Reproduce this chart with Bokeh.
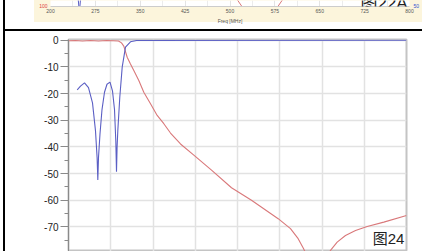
from bokeh.plotting import figure
from bokeh.models import Range1d, FixedTicker, LinearAxis, Label, Div, Spacer
from bokeh.layouts import row, column
from bokeh.embed import file_html
from bokeh.resources import INLINE

# ---------------- data: main chart (图24) ----------------
blue_freq = [20.6, 28.4, 37.9, 47.3, 56.8, 63.9, 67.7, 69.4, 71.0, 74.6, 79.3, 85.2,
             91.1, 98.2, 104.1, 108.9, 112.0, 113.6, 115.0, 116.7, 121.4, 127.1,
             134.9, 146.7, 160.9, 800.0]
blue_db = [-18.6, -17.2, -16.0, -17.8, -23.5, -34.0, -44.0, -52.4, -44.0, -35.0, -26.0, -19.5,
           -16.5, -15.7, -19.0, -26.0, -38.0, -49.3, -40.0, -34.0, -21.4, -10.1,
           -2.6, -0.6, -0.1, 0.0]

red_freq = [0.0, 16.6, 33.1, 52.1, 71.0, 89.9, 106.5, 118.3, 125.4, 130.9, 138.9, 146.7,
            154.6, 166.4, 178.2, 194.1, 209.9, 225.6, 241.4, 265.1, 296.6, 338.5,
            385.8, 433.1, 496.3, 525.4, 543.6, 556.2, 563.3, 577.5, 591.7, 605.9,
            613.0, 620.1, 635.9, 655.6, 679.3, 707.0, 746.3, 800.0]
red_db = [-0.2, -0.1, -0.3, -0.1, -0.3, -0.1, -0.2, -0.3, -1.0, -2.2, -6.4, -8.9,
          -11.4, -15.1, -19.5, -23.8, -28.2, -31.3, -34.8, -38.9, -43.1, -48.7,
          -55.3, -60.0, -66.9, -70.6, -74.4, -78.1, -80.5, -90.0, -90.0, -83.0,
          -80.5, -78.8, -75.7, -73.2, -71.3, -69.8, -68.2, -65.7]

y_ticks = [0, -10, -20, -30, -40, -50, -60, -70, -80]
y_minor = [-5, -15, -25, -35, -45, -55, -65, -75]
x_grid = [0, 100, 200, 300, 400, 500, 600, 700, 800]

# ---------------- data: strip of the chart above (图22A) ----------------
top_ticks = [200, 275, 350, 425, 500, 575, 650, 725, 800]
top_minor = [237.5, 312.5, 387.5, 462.5, 537.5, 612.5, 687.5, 762.5]
top_blue_freq = [245.0, 246.5, 248.3, 250.0, 251.5]
top_blue_val = [104.0, 102.0, 98.0, 102.0, 104.0]
top_red_freq = [505.0, 512.0, 521.0, 535.0, 565.0, 579.0, 588.0, 595.0]
top_red_val = [104.0, 102.3, 99.7, 97.0, 97.0, 99.7, 102.3, 104.0]

BLUE = "#5b5fc4"
RED = "#d9787a"
FONT = "Liberation Sans, Noto Sans CJK SC"

# ---------------- top strip figure ----------------
top = figure(width=388, height=29, x_range=Range1d(200, 800), y_range=Range1d(99.999, 102),
             output_backend="svg", toolbar_location=None,
             min_border_left=16, min_border_right=12, min_border_top=0, min_border_bottom=23,
             styles={"background": "linear-gradient(to bottom, #fcf5dc 0px, #fcf5dc 22px, #ffffff 22px, #ffffff 100%)"})
top.border_fill_color = None
top.background_fill_color = "white"
top.outline_line_color = None
top.xaxis.ticker = FixedTicker(ticks=top_ticks, minor_ticks=top_minor)
top.xaxis.major_label_overrides = {t: str(t) for t in top_ticks}
top.xaxis.axis_label = "Freq [MHz]"
top.xaxis.axis_label_text_font_size = "5px"
top.xaxis.axis_label_text_font_style = "normal"
top.xaxis.axis_label_text_color = "#555555"
top.xaxis.axis_label_standoff = 2
top.xaxis.major_label_text_font_size = "5px"
top.xaxis.major_label_text_color = "#555555"
top.xaxis.major_label_standoff = 2
top.xaxis.major_tick_out = 0
top.xaxis.major_tick_in = 0
top.xaxis.minor_tick_out = 0
top.xaxis.minor_tick_in = 0
top.xaxis.axis_line_color = "#cccccc"
top.xgrid.grid_line_color = "#e4e4e4"
top.xgrid.minor_grid_line_color = "#ececec"
top.ygrid.grid_line_color = None

top.yaxis.ticker = FixedTicker(ticks=[100])
top.yaxis.major_label_overrides = {100: "100"}
top.yaxis.major_label_text_color = "#e04040"
top.yaxis.major_label_text_font_size = "5px"
top.yaxis.major_label_standoff = 3
top.yaxis.axis_line_color = None
top.yaxis.major_tick_out = 0
top.yaxis.major_tick_in = 0
top.yaxis.minor_tick_out = 0
top.yaxis.minor_tick_in = 0

top.extra_y_ranges = {"r": Range1d(49.999, 51)}
raxis = LinearAxis(y_range_name="r", ticker=FixedTicker(ticks=[50]),
                   major_label_overrides={50: "50"})
raxis.major_label_text_color = "#3050d0"
raxis.major_label_text_font_size = "5px"
raxis.major_label_standoff = 4
raxis.axis_line_color = None
raxis.major_tick_out = 0
raxis.major_tick_in = 0
raxis.minor_tick_out = 0
raxis.minor_tick_in = 0
top.add_layout(raxis, "right")

top.line(top_blue_freq, top_blue_val, line_color=BLUE, line_width=1)
top.line(top_red_freq, top_red_val, line_color=RED, line_width=1)
top.add_layout(Label(x=718, y=100.9, text="图22A", text_font=FONT,
                     text_font_size="17px", text_color="#222222",
                     text_baseline="alphabetic"))

# ---------------- main figure ----------------
p = figure(width=417, height=220, x_range=Range1d(0, 800), y_range=Range1d(-79.2, 0.26),
           output_backend="svg", toolbar_location=None,
           min_border_left=63, min_border_right=16, min_border_top=8, min_border_bottom=0)
p.background_fill_color = "white"
p.border_fill_color = "white"
p.outline_line_color = "#c4c4c4"
p.outline_line_width = 2
p.xaxis.visible = False
p.xgrid.ticker = FixedTicker(ticks=x_grid)
p.xgrid.grid_line_color = "#e2e2e2"
p.xgrid.grid_line_width = 1.5
p.yaxis.ticker = FixedTicker(ticks=y_ticks, minor_ticks=y_minor)
p.yaxis.major_label_overrides = {t: str(t) for t in y_ticks}
p.yaxis.major_label_text_font = FONT
p.yaxis.major_label_text_font_size = "10px"
p.yaxis.major_label_text_color = "#222222"
p.yaxis.major_label_standoff = 2
p.yaxis.major_tick_out = 8
p.yaxis.major_tick_in = 0
p.yaxis.minor_tick_out = 4
p.yaxis.minor_tick_in = 0
p.yaxis.axis_line_color = "#8a8a8a"
p.yaxis.major_tick_line_color = "#8a8a8a"
p.yaxis.minor_tick_line_color = "#8a8a8a"
p.ygrid.grid_line_color = "#e2e2e2"
p.ygrid.grid_line_width = 1.5

p.line(red_freq, red_db, line_color=RED, line_width=1.1)
p.line(blue_freq, blue_db, line_color=BLUE, line_width=1.1)
p.add_layout(Label(x=795, y=-74.3, text="图24", text_font=FONT,
                   text_font_size="15px", text_color="#222222",
                   text_align="right", text_baseline="alphabetic"))

# ---------------- page layout (table borders of the scanned sheet) ----------------
black_v = Div(width=2, height=251, margin=0, styles={"background-color": "black"})
gap_v = Div(width=3, height=251, margin=0)
black_h = Div(width=417, height=2, margin=0, styles={"background-color": "black"})
strip = row(Spacer(width=29, height=29, margin=0), top, margin=0)
right_col = column(strip, black_h, p, margin=0)
root = row(gap_v, black_v, right_col, margin=0)

open("out.html", "w").write(file_html(root, INLINE))
